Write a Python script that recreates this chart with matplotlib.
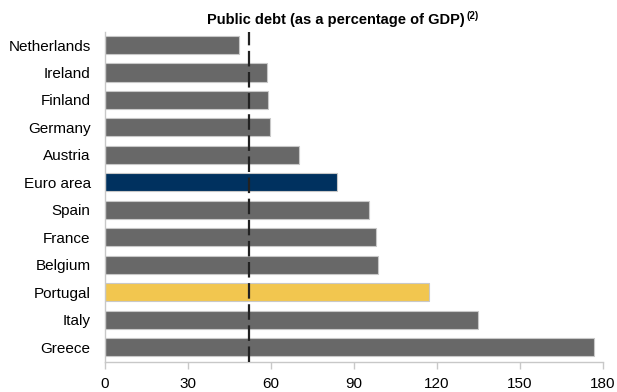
import matplotlib
matplotlib.use("Agg")
import matplotlib.pyplot as plt

countries = ["Netherlands", "Ireland", "Finland", "Germany", "Austria", "Euro area",
             "Spain", "France", "Belgium", "Portugal", "Italy", "Greece"]
debt = [48.6, 58.7, 59.2, 59.8, 70.2, 84.0, 95.5, 98.0, 98.8, 117.2, 134.9, 176.8]
reference_line = 52.2
xticks = [0, 30, 60, 90, 120, 150, 180]

GRAY = "#686868"
NAVY = "#00315F"
YELLOW = "#F2C64F"
colors = [NAVY if c == "Euro area" else YELLOW if c == "Portugal" else GRAY for c in countries]

plt.rcParams['font.family'] = ['Liberation Sans', 'DejaVu Sans']

fig = plt.figure(figsize=(6.17, 3.92), dpi=100)
ax = fig.add_axes([0.1694, 0.0773, 0.9773 - 0.1694, 0.918 - 0.0773])

y = list(range(len(countries)))
ax.barh(y, debt, height=0.66, color=colors, edgecolor="#c8c8c8", linewidth=0.8, zorder=2)
ax.axvline(reference_line, color="#222222", lw=1.6, dashes=(7, 2.5), zorder=3)

ax.set_ylim(len(countries) - 1 + 0.535, -0.47)
ax.set_xlim(0, 180)
ax.set_yticks(y)
ax.set_yticklabels(countries, fontsize=11)
ax.set_xticks(xticks)
ax.set_xticklabels([str(t) for t in xticks], fontsize=11)
ax.tick_params(axis="y", length=0, pad=10)
ax.tick_params(axis="x", length=5, width=1, color="#c8c8c8", pad=6)
for s in ["top", "right"]:
    ax.spines[s].set_visible(False)
ax.spines["left"].set_color("#c8c8c8")
ax.spines["bottom"].set_color("#c8c8c8")
ax.spines["left"].set_linewidth(1)
ax.spines["bottom"].set_linewidth(1)

t = fig.text(0.545, 0.948, "Public debt (as a percentage of GDP)", ha="center", va="center",
             fontsize=10.5, fontweight="bold")
fig.canvas.draw()
bb = t.get_window_extent()
fig.text((bb.x1 + 1) / fig.bbox.width, (bb.y1 + 2) / fig.bbox.height, "(2)",
         ha="left", va="top", fontsize=7, fontweight="bold")

fig.savefig("out.png", dpi=100)
